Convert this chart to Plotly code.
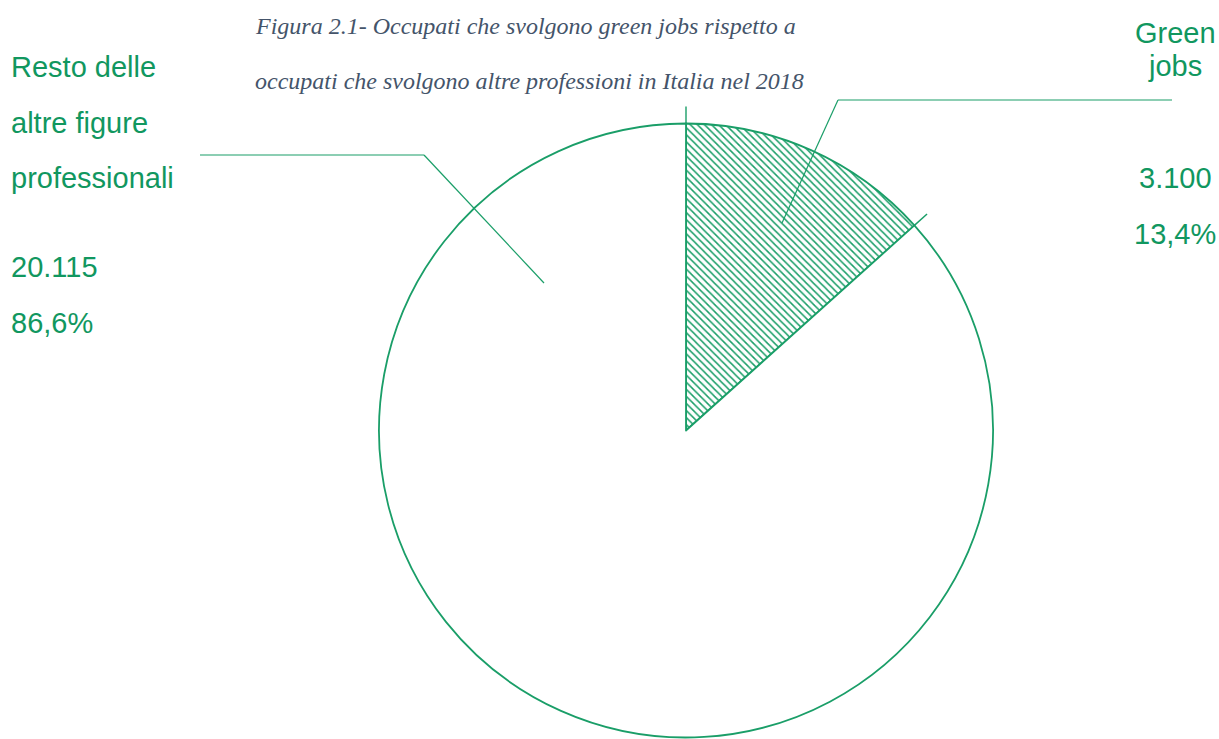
import math
import plotly.graph_objects as go

# ---- data ----
labels = ["Green jobs", "Resto delle altre figure professionali"]
values = [3100, 20115]          # migliaia di occupati
title_lines = [
    "Figura 2.1- Occupati che svolgono green jobs rispetto a",
    "occupati che svolgono altre professioni in Italia nel 2018",
]

total = sum(values)
val_txt = [f"{v:,}".replace(",", ".") for v in values]
pct_txt = [f"{100 * v / total:.1f}".replace(".", ",") + "%" for v in values]

# ---- layout constants (pixels) ----
W, H = 1219, 739
CX, CY, R = 686, 430.5, 307
GREEN = "#11975F"
LINE = "#1A9E68"
TITLE_C = "#44546A"


def px(x):
    return x / W


def py(y):
    return 1 - y / H


fig = go.Figure(
    go.Pie(
        labels=labels,
        values=values,
        sort=False,
        direction="clockwise",
        rotation=0,
        textinfo="none",
        hoverinfo="skip",
        showlegend=False,
        marker=dict(
            colors=["white", "white"],
            line=dict(color=LINE, width=1.8),
            pattern=dict(shape=["\\", ""], fgcolor=LINE, bgcolor="white",
                         size=5, solidity=0.3),
        ),
        domain=dict(x=[px(CX - R), px(CX + R)], y=[max(0, py(CY + R)), py(CY - R)]),
    )
)

shapes = []


def seg(x0, y0, x1, y1, w=1.2):
    shapes.append(dict(type="line", xref="paper", yref="paper",
                       x0=px(x0), y0=py(y0), x1=px(x1), y1=py(y1),
                       line=dict(color=LINE, width=w)))


# slice-edge ticks derived from data angles
for ang in [0, 360 * values[0] / total]:
    t = math.radians(ang)
    seg(CX + R * math.sin(t), CY - R * math.cos(t),
        CX + (R + 17) * math.sin(t), CY - (R + 17) * math.cos(t), 1.4)

# leader lines
seg(782, 223, 838, 100)
seg(838, 100, 1172, 100)
seg(544, 283, 424, 155)
seg(424, 155, 200, 155)

ann = []


def text(x, y, s, anchor="left", size=29, color=GREEN, family="Liberation Sans", style="normal"):
    ann.append(dict(xref="paper", yref="paper", x=px(x), y=py(y), text=s,
                    showarrow=False, xanchor=anchor, yanchor="middle",
                    font=dict(family=family, size=size, color=color, style=style)))


# title
text(253, 26, title_lines[0], size=24, color=TITLE_C, family="Liberation Serif", style="italic")
text(253, 81, title_lines[1], size=24, color=TITLE_C, family="Liberation Serif", style="italic")

# left label (rest)
text(9, 67, "Resto delle")
text(9, 123, "altre figure")
text(9, 178, "professionali")
text(9, 267, val_txt[1])
text(9, 323, pct_txt[1])

# right label (green jobs)
text(1175, 33, "Green", anchor="center")
text(1175, 66, "jobs", anchor="center")
text(1175, 178, val_txt[0], anchor="center")
text(1175, 234, pct_txt[0], anchor="center")

fig.update_layout(
    width=W, height=H,
    margin=dict(l=0, r=0, t=0, b=0),
    paper_bgcolor="white", plot_bgcolor="white",
    shapes=shapes, annotations=ann,
)

fig.write_html("out.html")
